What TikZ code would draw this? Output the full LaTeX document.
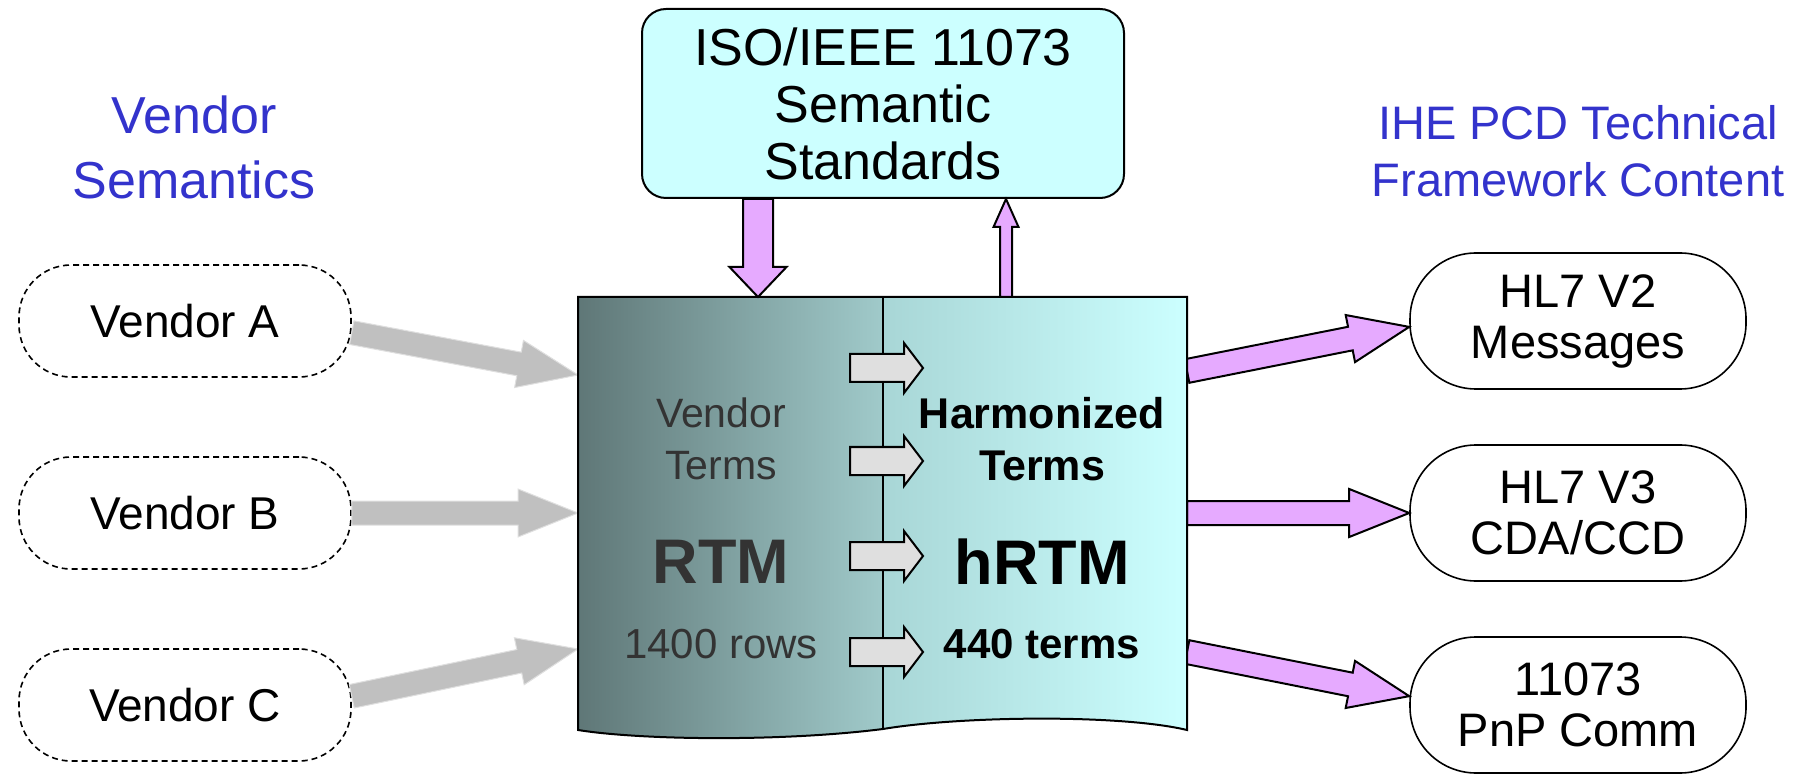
\documentclass[tikz,border=0pt]{standalone}
\usepackage{fontspec}
\setmainfont{Liberation Sans}
\usetikzlibrary{calc,positioning}

\definecolor{isofill}{HTML}{CCFFFF}
\definecolor{pinkarrow}{HTML}{E6AAFF}
\definecolor{grayarrow}{HTML}{C0C0C0}
\definecolor{labelblue}{HTML}{3333CC}
\definecolor{rtmdark}{HTML}{5F7777}
\definecolor{rtmlight}{HTML}{A0CACA}
\definecolor{hrtmleft}{HTML}{A8D6D6}
\definecolor{hrtmright}{HTML}{CCFFFF}
\definecolor{textgray}{HTML}{333333}

% block arrow: style, from, to, half shaft, half head, head length
\newcommand{\blockarrow}[6]{%
	\path[#1] ($(#2)!#4!-90:(#3)$) -- ($(#3)!#6!(#2)!#4!90:(#2)$) -- ($(#3)!#6!(#2)!#5!90:(#2)$) -- (#3)
		-- ($(#3)!#6!(#2)!#5!-90:(#2)$) -- ($(#3)!#6!(#2)!#4!-90:(#2)$) -- ($(#2)!#4!90:(#3)$) -- cycle;}

\begin{document}
\begin{tikzpicture}[x=0.5pt,y=-0.5pt]
	\tikzstyle{vendor}=[rectangle, rounded corners=26pt, draw=black, dash pattern=on 3pt off 2pt, line width=0.8pt, minimum width=166pt, minimum height=56pt, font=\fontsize{23}{26}\selectfont]
	\tikzstyle{target}=[rectangle, rounded corners=33pt, draw=black, line width=0.8pt, minimum width=168pt, minimum height=68pt, align=center, font=\fontsize{23.5}{25.5}\selectfont]
	\tikzstyle{heading}=[text=labelblue, align=center]
	\tikzstyle{grey arrow}=[fill=grayarrow, draw=gray!25, line width=0.5pt]
	\tikzstyle{pink arrow}=[fill=pinkarrow, draw=black, line width=1pt]
	\tikzstyle{small arrow}=[fill=gray!25, draw=black, line width=1pt]

	\useasboundingbox (0,0) rectangle (1807,774);

	% headings
	\node [heading, font=\fontsize{26}{32.5}\selectfont] (vsem) at (194,147) {Vendor\\Semantics};
	\node [heading, font=\fontsize{23.5}{28.5}\selectfont] (ihe) at (1578,151) {IHE PCD Technical\\Framework Content};

	\node [rectangle, rounded corners=12pt, draw=black, line width=1pt, fill=isofill, minimum width=241pt, minimum height=94.5pt, align=center, font=\fontsize{26}{28.5}\selectfont] (iso) at (883,103.5) {ISO/IEEE 11073\\Semantic\\Standards};

	% sources and targets
	\node [vendor] (vA) at (185,321) {Vendor A};
	\node [vendor] (vB) at (185,513) {Vendor B};
	\node [vendor] (vC) at (185,705) {Vendor C};

	\node [target] (n1) at (1578,321) {HL7 V2\\Messages};
	\node [target] (n2) at (1578,513) {HL7 V3\\CDA/CCD};
	\node [target] (n3) at (1578,705) {11073\\PnP Comm};

	\coordinate (rtmA) at (578,375);
	\coordinate (rtmB) at (578,513);
	\coordinate (rtmC) at (578,649);
	\coordinate (hrtm1) at (1187,371);
	\coordinate (hrtm2) at (1187,513);
	\coordinate (hrtm3) at (1187,652);

	\blockarrow{grey arrow}{vA.-4}{rtmA}{6pt}{12pt}{30pt}
	\blockarrow{grey arrow}{vB.east}{rtmB}{6pt}{12pt}{30pt}
	\blockarrow{grey arrow}{vC.3}{rtmC}{6pt}{12pt}{30pt}

	\blockarrow{pink arrow}{hrtm1}{n1.182}{6pt}{12pt}{30pt}
	\blockarrow{pink arrow}{hrtm2}{n2.west}{6pt}{12pt}{30pt}
	\blockarrow{pink arrow}{hrtm3}{n3.177}{6pt}{12pt}{30pt}

	% the two term tables
	\fill [left color=rtmdark, right color=rtmlight] (578,297) -- (883,297) -- (883,729) .. controls (780,742) and (640,740) .. (578,730) -- cycle;
	\fill [left color=hrtmleft, right color=hrtmright] (883,297) -- (1187,297) -- (1187,730) .. controls (1120,714) and (960,716) .. (883,729) -- cycle;
	\draw [line width=1pt] (578,297) -- (1187,297) -- (1187,730) .. controls (1120,714) and (960,716) .. (883,729) .. controls (780,742) and (640,740) .. (578,730) -- cycle;
	\draw [line width=1pt] (883,297) -- (883,729);

	\coordinate (rtmin) at (758,297);
	\coordinate (isoout) at (iso.south -| rtmin);
	\coordinate (hrtmout) at (1006,297);
	\coordinate (isoin) at (iso.south -| hrtmout);
	\blockarrow{pink arrow}{isoout}{rtmin}{7.5pt}{14.25pt}{15pt}
	\blockarrow{pink arrow}{hrtmout}{isoin}{3pt}{6.25pt}{14pt}

	\foreach \y [count=\i] in {368,461,556,652} {
		\coordinate (s\i) at (850,\y);
		\coordinate (e\i) at (923,\y);
		\blockarrow{small arrow}{s\i}{e\i}{7pt}{12.5pt}{9.5pt}
	}

	\node [text=textgray, align=center, font=\fontsize{20.5}{26}\selectfont] (vterms) at (721,439) {Vendor\\Terms};
	\node [text=textgray, font=\bfseries\fontsize{31.5}{36}\selectfont] (rtm) at (721,562) {RTM};
	\node [text=textgray, font=\fontsize{21}{25}\selectfont] (rows) at (721,644) {1400 rows};
	\node [align=center, font=\bfseries\fontsize{21.5}{26}\selectfont] (hterms) at (1042,439) {Harmonized\\Terms};
	\node [font=\bfseries\fontsize{31.5}{36}\selectfont] (hrtm) at (1042,562) {hRTM};
	\node [font=\bfseries\fontsize{21}{25}\selectfont] (hrows) at (1042,644) {440 terms};
\end{tikzpicture}
\end{document}
